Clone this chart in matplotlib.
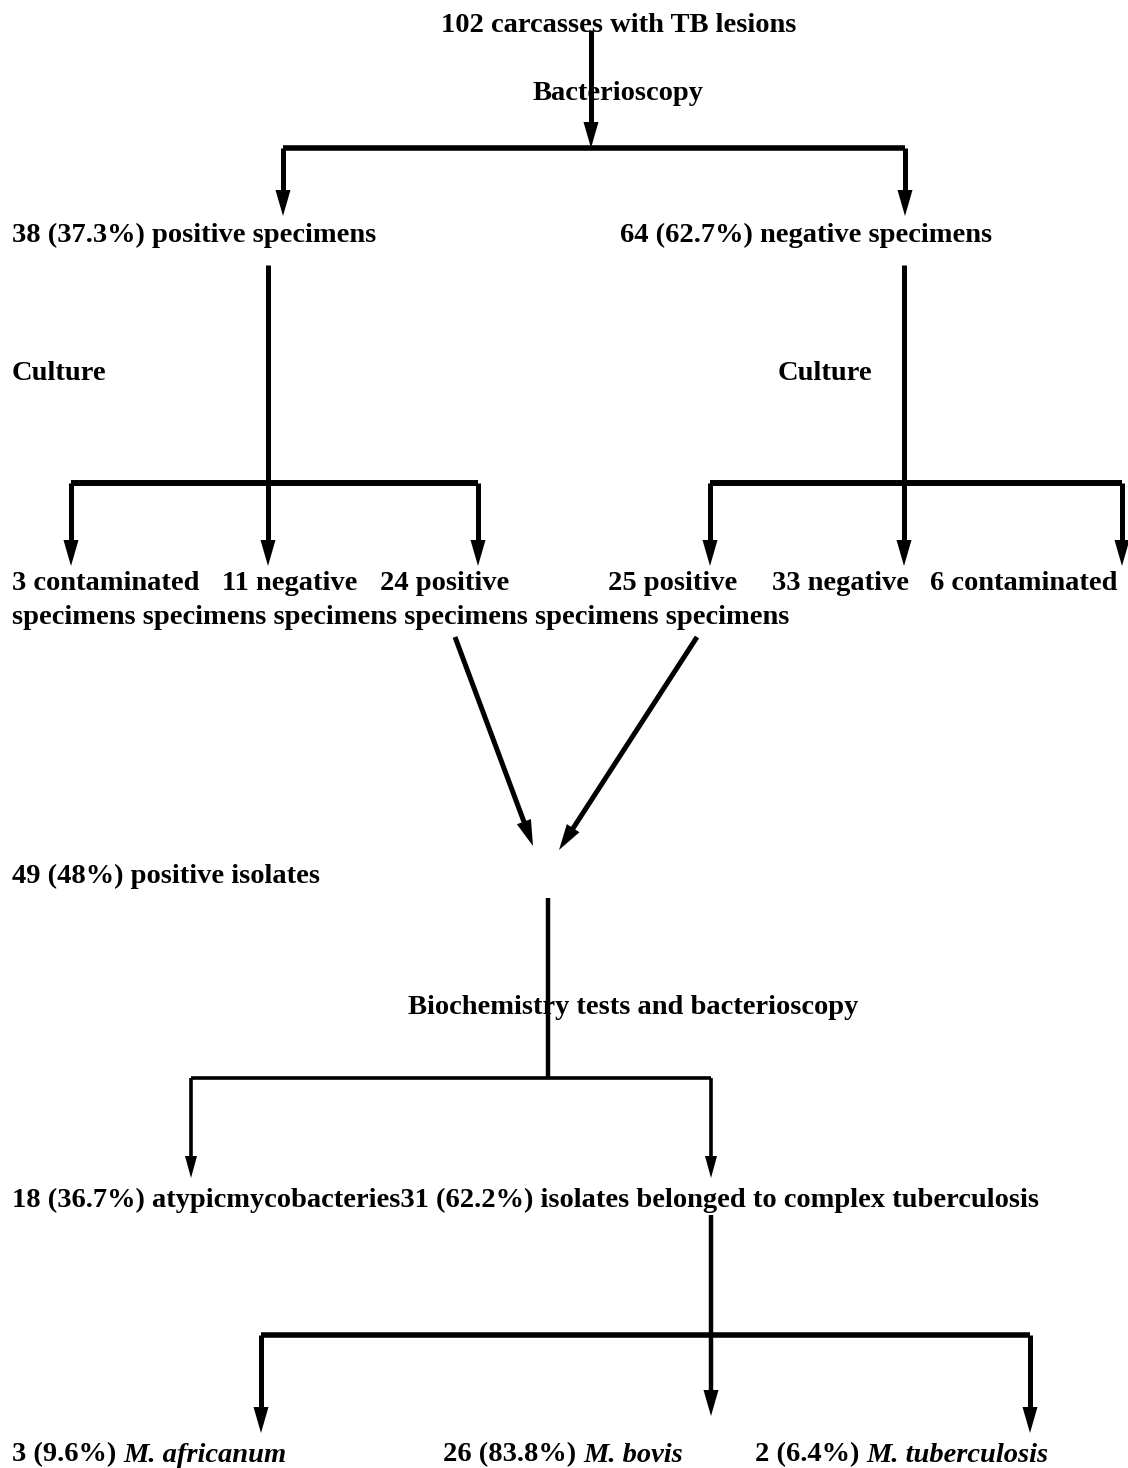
import matplotlib
matplotlib.use("Agg")
import matplotlib.pyplot as plt
from matplotlib.patches import Polygon
import numpy as np

# ---- node texts (chart content) ----
title = "102 carcasses with TB lesions"
step1 = "Bacterioscopy"
level1 = ["38 (37.3%) positive specimens", "64 (62.7%) negative specimens"]
step2 = ["Culture", "Culture"]
level2 = ["3 contaminated", "11 negative", "24 positive", "25 positive", "33 negative", "6 contaminated"]
level2_line2 = "specimens specimens specimens specimens specimens specimens"
level3 = "49 (48%) positive isolates"
step3 = "Biochemistry tests and bacterioscopy"
level4 = "18 (36.7%) atypicmycobacteries31 (62.2%) isolates belonged to complex tuberculosis"
level5_counts = ["3 (9.6%) ", "26 (83.8%) ", "2 (6.4%) "]
level5_species = ["M. africanum", "M. bovis", "M. tuberculosis"]

W, H = 1128, 1468
fig = plt.figure(figsize=(W / 100, H / 100), dpi=100)
ax = fig.add_axes([0, 0, 1, 1])
ax.set_xlim(0, W)
ax.set_ylim(H, 0)
ax.axis("off")

FONT = dict(family="Liberation Serif", weight="bold", size=20.5)
DY = 3

def txt(x, y, s, ha="left", **kw):
    d = dict(FONT)
    d.update(kw)
    return ax.text(x, y + DY, s, ha=ha, va="center", zorder=1, **d)

def line(xs, ys, lw=3.6):
    ax.plot(xs, ys, color="black", lw=lw, solid_capstyle="butt", zorder=3)

def arrow(x0, y0, x1, y1, lw=3.6, hl=26, hw=15):
    v = np.array([x1 - x0, y1 - y0], float)
    L = np.hypot(*v)
    u = v / L
    n = np.array([-u[1], u[0]])
    base = np.array([x1, y1]) - u * hl
    line([x0, base[0] + u[0] * 2], [y0, base[1] + u[1] * 2], lw)
    tri = [[x1, y1], base + n * hw / 2, base - n * hw / 2]
    ax.add_patch(Polygon(tri, closed=True, color="black", zorder=3, lw=0))

# ---- texts ----
txt(619, 22, title, ha="center")
txt(618, 90, step1, ha="center")
txt(12, 232, level1[0])
txt(620, 232, level1[1])
txt(12, 370, step2[0])
txt(778, 370, step2[1])
for x, s in zip([12, 222, 380, 608, 772, 930], level2):
    txt(x, 580, s)
txt(12, 615, level2_line2)
txt(12, 873, level3)
txt(633, 1004, step3, ha="center")
txt(12, 1197, level4)

fig.canvas.draw()
renderer = fig.canvas.get_renderer()
for x, c, sp in zip([12, 443, 755], level5_counts, level5_species):
    t = txt(x, 1452, c)
    bb = t.get_window_extent(renderer)
    x2 = ax.transData.inverted().transform((bb.x1, bb.y0))[0]
    txt(x2, 1452, sp, style="italic")

# ---- connectors ----
arrow(591, 30, 591, 148)
line([283, 905], [148, 148], lw=4)
arrow(283, 148, 283, 216)
arrow(905, 148, 905, 216)

arrow(268, 265, 268, 566)
line([71, 478], [483, 483], lw=4.3)
arrow(71, 483, 71, 566)
arrow(478, 483, 478, 566)

arrow(904, 265, 904, 566)
line([710, 1122], [483, 483], lw=4.3)
arrow(710, 483, 710, 566)
arrow(1122, 483, 1122, 566)

arrow(455, 637, 533, 846)
arrow(697, 637, 559, 850)

line([548, 548], [898, 1078], lw=3.2)
line([191, 711], [1078, 1078], lw=2.6)
arrow(191, 1078, 191, 1178, lw=2.6, hl=22, hw=12)
arrow(711, 1078, 711, 1178, lw=2.6, hl=22, hw=12)

arrow(711, 1215, 711, 1416, lw=3.2)
line([261, 1030], [1335, 1335], lw=4)
arrow(261, 1335, 261, 1433)
arrow(1030, 1335, 1030, 1433)

fig.savefig("out.png", dpi=100, facecolor="white")
